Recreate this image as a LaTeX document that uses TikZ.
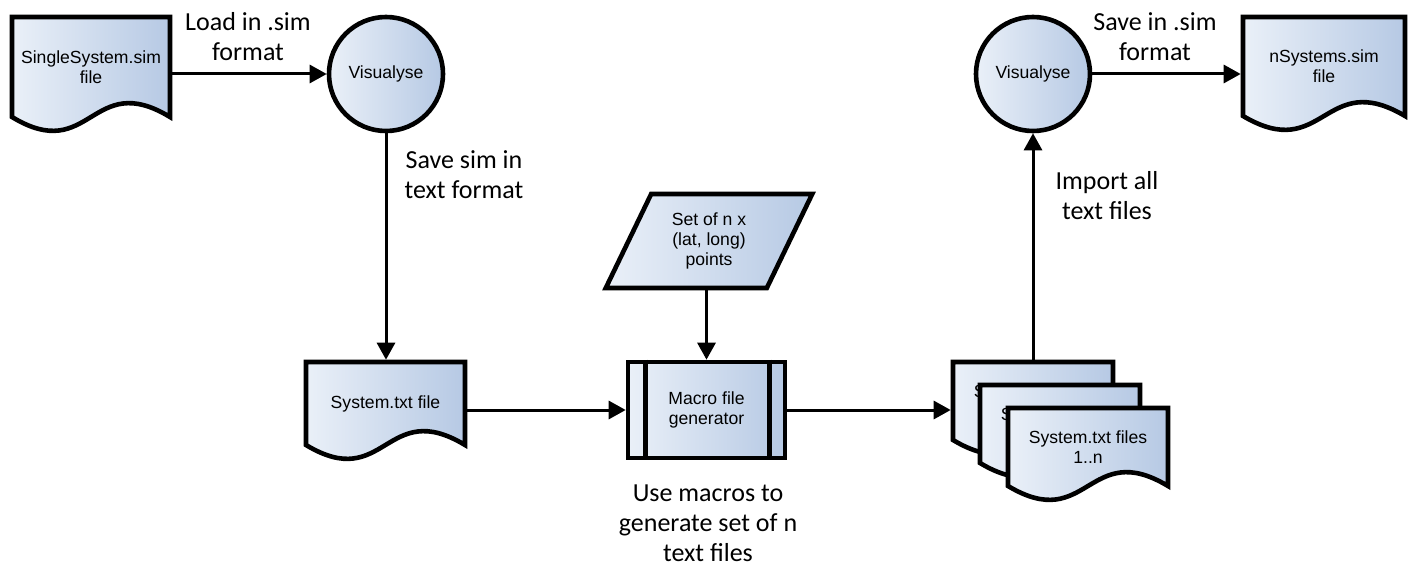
\documentclass[tikz,border=0pt]{standalone}
\usepackage{fontspec}
\setmainfont{Liberation Sans}
\newfontfamily\lblfont{Carlito}
\usetikzlibrary{arrows.meta,shapes.geometric}
\newdimen\wdXa \newdimen\wdXb \newdimen\wdXm
\newdimen\wdYa \newdimen\wdYb \newdimen\wdYu \newdimen\wdYd
\makeatletter
\pgfdeclareshape{wavedoc}{%
  \inheritsavedanchors[from=rectangle]%
  \inheritanchorborder[from=rectangle]%
  \inheritanchor[from=rectangle]{center}%
  \inheritanchor[from=rectangle]{north}%
  \inheritanchor[from=rectangle]{south}%
  \inheritanchor[from=rectangle]{east}%
  \inheritanchor[from=rectangle]{west}%
  \inheritanchor[from=rectangle]{north east}%
  \inheritanchor[from=rectangle]{north west}%
  \inheritanchor[from=rectangle]{south east}%
  \inheritanchor[from=rectangle]{south west}%
  \inheritanchor[from=rectangle]{mid}%
  \inheritanchor[from=rectangle]{base}%
  \backgroundpath{%
    \southwest \wdXa=\pgf@x \wdYa=\pgf@y
    \northeast \wdXb=\pgf@x \wdYb=\pgf@y
    \advance\wdXa by \pgfkeysvalueof{/pgf/outer xsep}%
    \advance\wdYa by \pgfkeysvalueof{/pgf/outer ysep}%
    \advance\wdXb by -\pgfkeysvalueof{/pgf/outer xsep}%
    \advance\wdYb by -\pgfkeysvalueof{/pgf/outer ysep}%
    \wdXm=.5\wdXa \advance\wdXm by .5\wdXb
    \wdYu=\wdYa \advance\wdYu by 24pt
    \wdYd=\wdYa \advance\wdYd by -24pt
    \pgfpathmoveto{\pgfqpoint{\wdXa}{\wdYb}}%
    \pgfpathlineto{\pgfqpoint{\wdXb}{\wdYb}}%
    \pgfpathlineto{\pgfqpoint{\wdXb}{\wdYa}}%
    \pgfpathcurveto{\pgfqpoint{\wdXm}{\wdYu}}{\pgfqpoint{\wdXm}{\wdYd}}{\pgfqpoint{\wdXa}{\wdYa}}%
    \pgfpathclose
  }%
}
\makeatother
\definecolor{fillA}{RGB}{234,240,248}
\definecolor{fillB}{RGB}{182,201,228}
\tikzset{
  shp/.style={draw=black, line width=2.3pt, left color=fillA, right color=fillB,
    font=\fontsize{8.8}{10}\selectfont, align=center, inner sep=1pt},
  docnode/.style={shp, shape=wavedoc},
  circ/.style={shp, circle, minimum size=57pt},
  conn/.style={line width=1.5pt, -{Triangle[length=8.5pt,width=9pt]}},
  lbl/.style={font=\lblfont\fontsize{13}{15}\selectfont, align=center, inner sep=0pt},
  bandline/.style={line width=2.3pt},
}
\begin{document}
\begin{tikzpicture}[x=0.5pt,y=-0.5pt]
\useasboundingbox (0,0) rectangle (1413,567);
% nodes
\node[docnode, minimum width=79pt, minimum height=50pt] (d1) at (91,67) {SingleSystem.sim\\file};
\node[circ] (v1) at (386,74) {Visualyse};
\node[docnode, minimum width=79.5pt, minimum height=41.5pt] (s) at (385.5,403.5) {System.txt file};
\node[shp, trapezium, trapezium left angle=63, trapezium right angle=117,
      trapezium stretches=true, minimum width=104pt, minimum height=47pt] (p) at (709,241) {Set of n x\\(lat, long)\\points};
\node[shp, rectangle, minimum width=78.5pt, minimum height=48pt] (m) at (706.5,410) {Macro file\\generator};
\draw[bandline] ([xshift=10pt]m.north west) -- ([xshift=10pt]m.south west);
\draw[bandline] ([xshift=-9pt]m.north east) -- ([xshift=-9pt]m.south east);
\node[docnode, minimum width=80pt, minimum height=39pt] (fa) at (1033,401) {System.txt files\\1..n};
\node[docnode, minimum width=80pt, minimum height=39pt] (fb) at (1060,424) {System.txt files\\1..n};
\node[docnode, minimum width=80pt, minimum height=39pt] (fc) at (1088,447) {System.txt files\\1..n};
\node[circ] (v2) at (1033,74) {Visualyse};
\node[docnode, minimum width=81pt, minimum height=49.5pt] (n) at (1324,66.5) {nSystems.sim\\file};
% labels
\node[lbl] (l1) at (248,37) {Load in .sim\\format};
\node[lbl] (l2) at (464,175) {Save sim in\\text format};
\node[lbl] (l3) at (708,523) {Use macros to\\generate set of n\\text files};
\node[lbl] (l4) at (1107,196) {Import all\\text files};
\node[lbl] (l5) at (1155,37) {Save in .sim\\format};
% connectors
\draw[conn] (v1.west -| d1.east) -- (v1.west);
\draw[conn] (v1.south) -- (v1.south |- s.north);
\draw[conn] (m.west -| s.east) -- (m.west);
\draw[conn] (p.south -| m.north) -- (m.north);
\draw[conn] (m.east) -- (m.east -| fa.west);
\draw[conn] (v2.south |- fa.north) -- (v2.south);
\draw[conn] (v2.east) -- (v2.east -| n.west);
\end{tikzpicture}
\end{document}
